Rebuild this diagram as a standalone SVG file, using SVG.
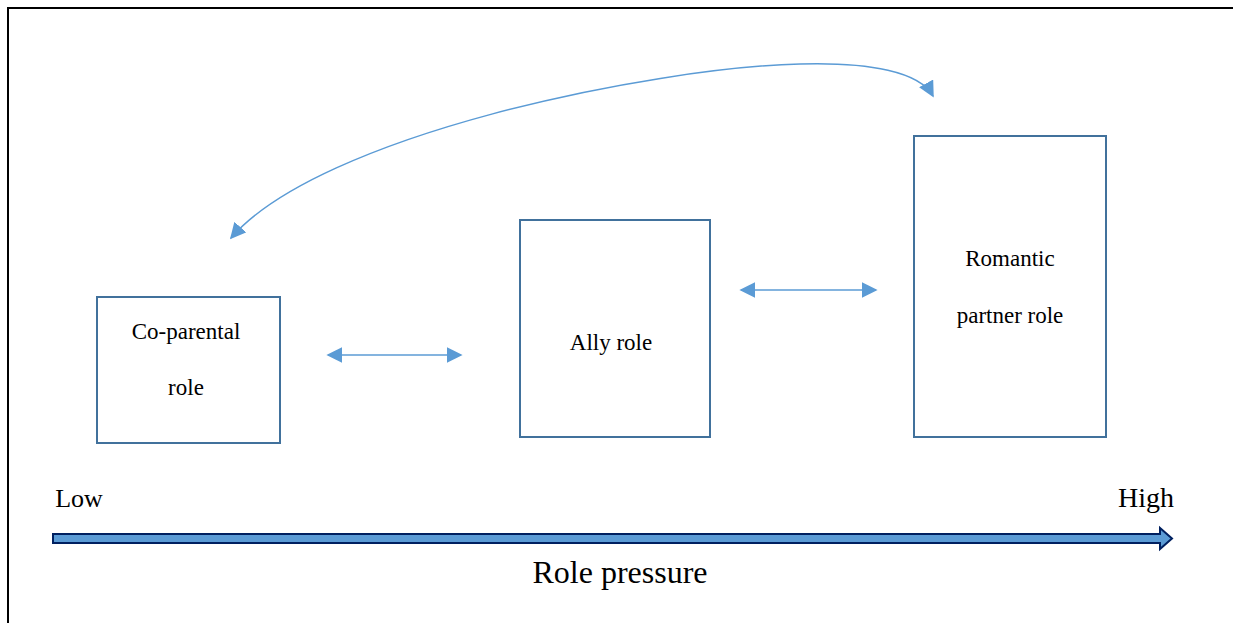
<svg xmlns="http://www.w3.org/2000/svg" width="1233" height="623" viewBox="0 0 1233 623">
<style>
.box{fill:#fff;stroke:#41719c;stroke-width:2}
.t{font-family:"Liberation Serif","Times New Roman",serif;fill:#000;text-anchor:middle}
.c{fill:none;stroke:#5b9bd5;stroke-width:1.5}
</style>
<defs>
<marker id="ah" viewBox="0 0 10 10" refX="9" refY="5" markerWidth="16" markerHeight="16" markerUnits="userSpaceOnUse" orient="auto-start-reverse">
<path d="M0,0 L10,5 L0,10 z" fill="#5b9bd5"/>
</marker>
</defs>
<rect width="1233" height="623" fill="#fff"/>
<path d="M8,623 V8 H1233" fill="none" stroke="#000" stroke-width="2"/>
<g id="coparental">
<rect class="box" x="97" y="297" width="183" height="146"/>
<text class="t" x="186" y="339" font-size="23">Co-parental</text>
<text class="t" x="186" y="395" font-size="23">role</text>
</g>
<g id="ally">
<rect class="box" x="520" y="220" width="190" height="217"/>
<text class="t" x="611" y="350" font-size="23">Ally role</text>
</g>
<g id="romantic">
<rect class="box" x="914" y="136" width="192" height="301"/>
<text class="t" x="1010" y="266" font-size="23">Romantic</text>
<text class="t" x="1010" y="323" font-size="23">partner role</text>
</g>
<g id="connectors">
<path class="c" d="M231,238 C320,135 650,68 800,64 C870,62 920,72 933,96" marker-start="url(#ah)" marker-end="url(#ah)"/>
<line class="c" x1="328" y1="355" x2="461" y2="355" marker-start="url(#ah)" marker-end="url(#ah)"/>
<line class="c" x1="741" y1="290" x2="876" y2="290" marker-start="url(#ah)" marker-end="url(#ah)"/>
</g>
<g id="axis">
<path d="M53,534 H1160 V528 L1172,538.5 L1160,549 V543 H53 z" fill="#5b9bd5" stroke="#002060" stroke-width="2"/>
<text class="t" x="79" y="507" font-size="26">Low</text>
<text class="t" x="1146" y="507" font-size="28">High</text>
<text class="t" x="620" y="583" font-size="32">Role pressure</text>
</g>
</svg>
